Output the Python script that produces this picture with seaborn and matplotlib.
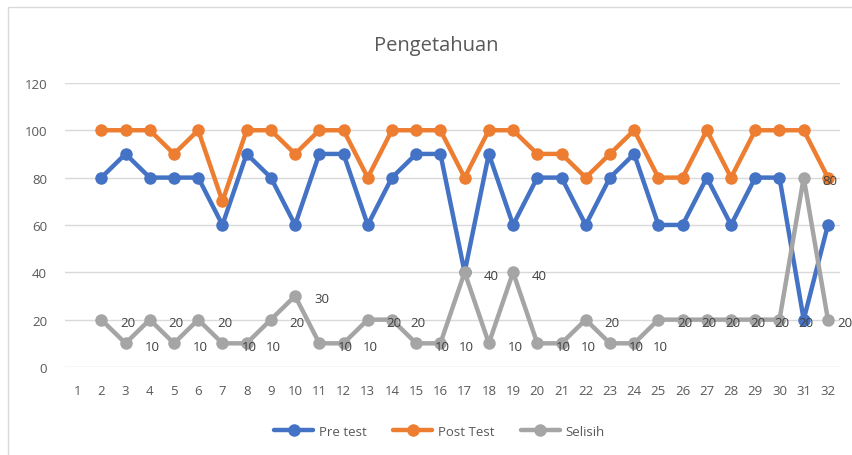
import numpy as np
import pandas as pd
import matplotlib
matplotlib.use("Agg")
import matplotlib.pyplot as plt
import seaborn as sns
from matplotlib.patches import Rectangle

categories = list(range(1, 33))
respondents = list(range(2, 33))
pre_test = [80, 90, 80, 80, 80, 60, 90, 80, 60, 90, 90, 60, 80, 90, 90, 40,
            90, 60, 80, 80, 60, 80, 90, 60, 60, 80, 60, 80, 80, 20, 60]
post_test = [100, 100, 100, 90, 100, 70, 100, 100, 90, 100, 100, 80, 100, 100, 100, 80,
             100, 100, 90, 90, 80, 90, 100, 80, 80, 100, 80, 100, 100, 100, 80]
selisih = [20, 10, 20, 10, 20, 10, 10, 20, 30, 10, 10, 20, 20, 10, 10, 40,
           10, 40, 10, 10, 20, 10, 10, 20, 20, 20, 20, 20, 20, 80, 20]
series_names = ["Pre test", "Post Test", "Selisih"]
yticks = [0, 20, 40, 60, 80, 100, 120]

df = pd.DataFrame({
    "x": respondents * 3,
    "value": pre_test + post_test + selisih,
    "series": [series_names[0]] * len(pre_test) + [series_names[1]] * len(post_test)
              + [series_names[2]] * len(selisih),
})

sns.set_theme(style="white")
plt.rcParams["font.family"] = ["Open Sans", "DejaVu Sans"]

fig = plt.figure(figsize=(8.53, 4.56), dpi=100)
ax = fig.add_axes([0.0762, 0.193, 0.9086, 0.623])

palette = {"Pre test": "#4472C4", "Post Test": "#ED7D31", "Selisih": "#A5A5A5"}
sns.lineplot(data=df, x="x", y="value", hue="series", hue_order=series_names,
             palette=palette, marker="o", markersize=9, markeredgewidth=0,
             linewidth=3.2, ax=ax, legend=True, zorder=3)

# data labels for Selisih
n = len(respondents)
for i, (xv, v) in enumerate(zip(respondents, selisih)):
    dx = 19 if i < n - 1 else 12.5
    ax.annotate(str(v), (xv, v), xytext=(dx, -2), textcoords="offset points",
                ha="center", va="center", fontsize=9.5, color="#404040", zorder=5)

ax.set_xlim(0.5, 32.5)
ax.set_ylim(0, 120)
ax.set_yticks(yticks)
ax.set_xticks(categories)
ax.set_xticklabels([str(c) for c in categories])
ax.grid(axis="y", color="#D9D9D9", linewidth=1)
ax.set_axisbelow(True)
for s in ax.spines.values():
    s.set_visible(False)
ax.tick_params(axis="both", length=0, labelsize=9.5, colors="#595959")
ax.tick_params(axis="x", pad=12)
ax.tick_params(axis="y", pad=13)
ax.set_xlabel("")
ax.set_ylabel("")

fig.text(0.512, 0.9, "Pengetahuan", ha="center", va="center", fontsize=14.5, color="#595959")

handles, labels = ax.get_legend_handles_labels()
ax.legend(handles, labels, loc="center", bbox_to_anchor=(0.515, 0.052),
          bbox_transform=fig.transFigure, ncol=3, frameon=False, fontsize=9.5,
          labelcolor="#595959", handlelength=3, columnspacing=2.0, handletextpad=0.4)

# chart border
fig.patches.append(Rectangle((8 / 853, -0.01), 1.0, 1 - 8 / 456 + 0.01, transform=fig.transFigure,
                             fill=False, edgecolor="#D9D9D9", linewidth=1))

fig.savefig("out.png", dpi=100)
